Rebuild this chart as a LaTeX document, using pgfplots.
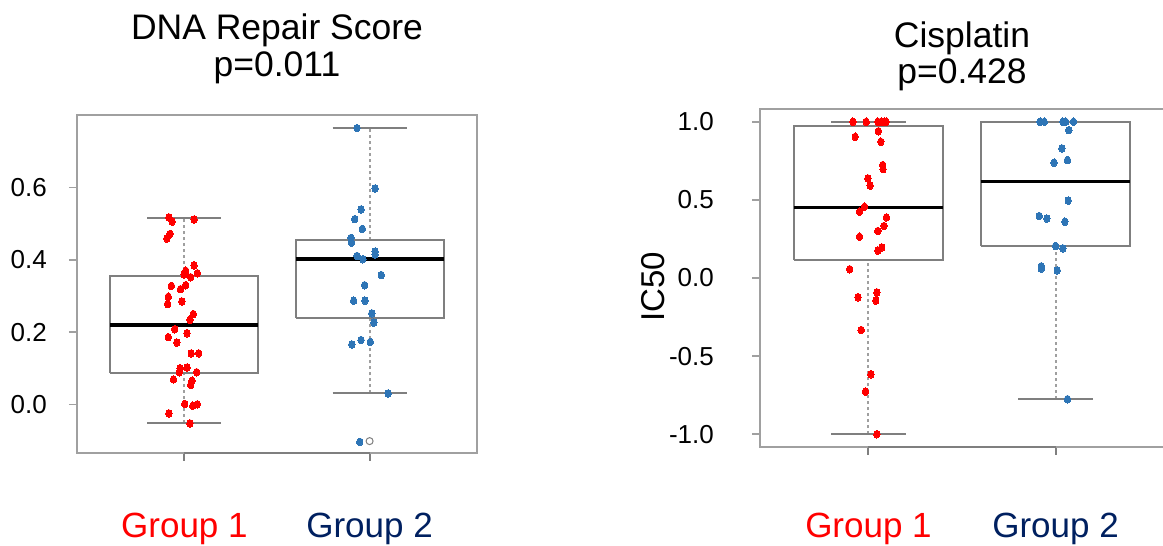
\documentclass[border=0pt]{standalone}
\usepackage{pgfplots}
\pgfplotsset{compat=1.18}
\usepackage{fontspec}
\setmainfont{Liberation Sans}
\definecolor{gred}{HTML}{FF0000}
\definecolor{gnavy}{HTML}{002060}
\definecolor{gblue}{HTML}{2E75B6}
\definecolor{framegray}{HTML}{A0A0A0}
\definecolor{boxgray}{HTML}{7F7F7F}
\pgfplotsset{
  rbox/.style={
    scale only axis, clip=false,
    xmin=0.42, xmax=2.58,
    axis line style={framegray, line width=2pt},
    tick style={framegray, line width=1.5pt},
    xtick style={boxgray, line width=2pt},
    tick align=outside, major tick length=8pt,
    tick pos=left,
    xtick={1,2},
    xticklabels={\textcolor{gred}{Group 1},\textcolor{gnavy}{Group 2}},
    xticklabel style={font=\fontsize{35}{42}\selectfont, anchor=base, inner sep=0pt},
    yticklabel style={font=\fontsize{26}{31}\selectfont, anchor=east, inner sep=0pt,
      /pgf/number format/fixed, /pgf/number format/fixed zerofill,
      /pgf/number format/precision=1},
    /pgf/number format/assume math mode=true,
    title style={font=\fontsize{35.5}{36.6}\selectfont, align=center, at={(0.5,1)}, anchor=south, inner sep=0pt},
  },
  whisk/.style={boxgray!75, line width=2pt, dash pattern=on 3pt off 3pt},
  cap/.style={boxgray, line width=2pt},
  boxl/.style={boxgray, line width=2pt, line join=miter},
  med/.style={black, line width=3.5pt},
  redpts/.style={gred, only marks, mark=*, mark size=3.2pt, mark options={draw=gred, fill=gred, line width=0pt, yscale=1.2}},
  bluepts/.style={gblue, only marks, mark=*, mark size=3.2pt, mark options={draw=gblue, fill=gblue, line width=0pt, yscale=1.2}},
}
\begin{document}
\begin{tikzpicture}
\useasboundingbox (0,0) rectangle (1163pt,546pt);
% ---------------- left panel ----------------
\begin{axis}[rbox, at={(77pt,93pt)}, anchor=south west, width=400pt, height=338pt,
  ymin=-0.1349, ymax=0.8014, ytick={0,0.2,0.4,0.6},
  yticklabel style={xshift=-22pt},
  xticklabel style={yshift=-77pt},
  title={DNA Repair Score\\p=0.011}, title style={yshift=25pt}]
\addplot[boxgray, line width=2pt] coordinates {(1,-0.1349) (2,-0.1349)};
% group 1
\addplot[whisk] coordinates {(1,0.355) (1,0.517)};
\addplot[whisk] coordinates {(1,-0.051) (1,0.0876)};
\addplot[cap] coordinates {(0.8,0.517) (1.2,0.517)};
\addplot[cap] coordinates {(0.8,-0.051) (1.2,-0.051)};
\addplot[boxl] coordinates {(0.6,0.0876) (1.4,0.0876) (1.4,0.355) (0.6,0.355) (0.6,0.0876)};
\addplot[med] coordinates {(0.6,0.220) (1.4,0.220)};
% group 2
\addplot[whisk] coordinates {(2,0.455) (2,0.766)};
\addplot[whisk] coordinates {(2,0.030) (2,0.238)};
\addplot[cap] coordinates {(1.8,0.766) (2.2,0.766)};
\addplot[cap] coordinates {(1.8,0.030) (2.2,0.030)};
\addplot[boxl] coordinates {(1.6,0.238) (2.4,0.238) (2.4,0.455) (1.6,0.455) (1.6,0.238)};
\addplot[med] coordinates {(1.6,0.402) (2.4,0.402)};
\addplot[only marks, mark=o, mark size=3.5pt, mark options={boxgray, line width=1pt}] coordinates {(2,-0.102)};
% points
\addplot[redpts] coordinates {
(0.916,0.518) (0.934,0.506) (1.052,0.512) (0.923,0.472) (0.905,0.459)
(1.052,0.385) (1.007,0.370) (0.998,0.360) (1.070,0.363) (1.034,0.352)
(0.930,0.328) (1.007,0.330) (0.979,0.319) (0.913,0.298) (0.909,0.278)
(0.986,0.285) (1.048,0.250) (1.030,0.234) (0.948,0.208) (1.014,0.197)
(0.913,0.186) (0.959,0.171) (1.037,0.141) (1.077,0.141) (0.977,0.100)
(1.014,0.102) (0.973,0.089) (1.066,0.089) (0.941,0.069) (1.041,0.065)
(1.034,0.054) (1.002,0.001) (1.045,-0.004) (1.070,0.000) (0.916,-0.025)
(1.030,-0.053)};
\addplot[bluepts] coordinates {
(1.932,0.765) (2.030,0.598) (1.954,0.540) (1.920,0.513) (1.961,0.486)
(1.900,0.461) (1.902,0.448) (2.030,0.423) (2.030,0.415) (1.932,0.411) (1.964,0.402)
(2.063,0.358) (1.973,0.330) (1.914,0.287) (1.975,0.287) (2.012,0.252)
(2.023,0.226) (1.904,0.166) (1.954,0.178) (2.004,0.173) (2.100,0.030)
(1.947,-0.104)};
\end{axis}
% ---------------- right panel ----------------
\begin{axis}[rbox, at={(760pt,99.3pt)}, anchor=south west, width=404pt, height=337.4pt,
  ymin=-1.08, ymax=1.08, ytick={-1,-0.5,0,0.5,1},
  yticklabel style={xshift=-38pt},
  xticklabel style={yshift=-83pt},
  ylabel={IC50},
  ylabel style={font=\fontsize{33}{40}\selectfont, at={(axis description cs:-0.265,0.474)}, anchor=center, rotate=0},
  title={Cisplatin\\p=0.428}, title style={yshift=12pt}]
\addplot[boxgray, line width=2pt] coordinates {(1,-1.08) (2,-1.08)};
% group 1
\addplot[whisk] coordinates {(1,0.975) (1,1.0)};
\addplot[whisk] coordinates {(1,-1.0) (1,0.115)};
\addplot[cap] coordinates {(0.8,1.0) (1.2,1.0)};
\addplot[cap] coordinates {(0.8,-1.0) (1.2,-1.0)};
\addplot[boxl] coordinates {(0.6,0.115) (1.4,0.115) (1.4,0.975) (0.6,0.975) (0.6,0.115)};
\addplot[med] coordinates {(0.6,0.450) (1.4,0.450)};
% group 2
\addplot[whisk] coordinates {(2,-0.774) (2,0.205)};
\addplot[cap] coordinates {(1.8,1.0) (2.2,1.0)};
\addplot[cap] coordinates {(1.8,-0.774) (2.2,-0.774)};
\addplot[boxl] coordinates {(1.6,0.205) (2.4,0.205) (2.4,1.0) (1.6,1.0) (1.6,0.205)};
\addplot[med] coordinates {(1.6,0.619) (2.4,0.619)};
% points
\addplot[redpts] coordinates {
(0.917,1.0) (0.988,1.0) (1.050,1.0) (1.068,1.0) (1.085,1.0) (1.094,1.0)
(1.053,0.940) (0.929,0.904) (1.066,0.872) (1.076,0.723) (1.078,0.697)
(0.997,0.638) (1.009,0.591) (0.979,0.456) (0.952,0.424) (1.096,0.388)
(1.083,0.333) (1.050,0.301) (0.952,0.264) (1.071,0.196) (1.050,0.175)
(0.899,0.056) (1.045,-0.092) (0.944,-0.123) (1.039,-0.145) (0.961,-0.333)
(1.013,-0.616) (0.984,-0.727) (1.045,-1.0)};
\addplot[bluepts] coordinates {
(1.917,1.0) (1.940,1.0) (2.039,1.0) (2.054,1.0) (2.096,1.0)
(2.071,0.947) (2.034,0.830) (1.992,0.738) (2.064,0.755) (2.068,0.495)
(1.913,0.397) (1.954,0.380) (2.050,0.360) (2.000,0.205) (2.039,0.190)
(1.924,0.075) (1.924,0.060) (2.009,0.049) (2.064,-0.776)};
\end{axis}
\end{tikzpicture}
\end{document}
